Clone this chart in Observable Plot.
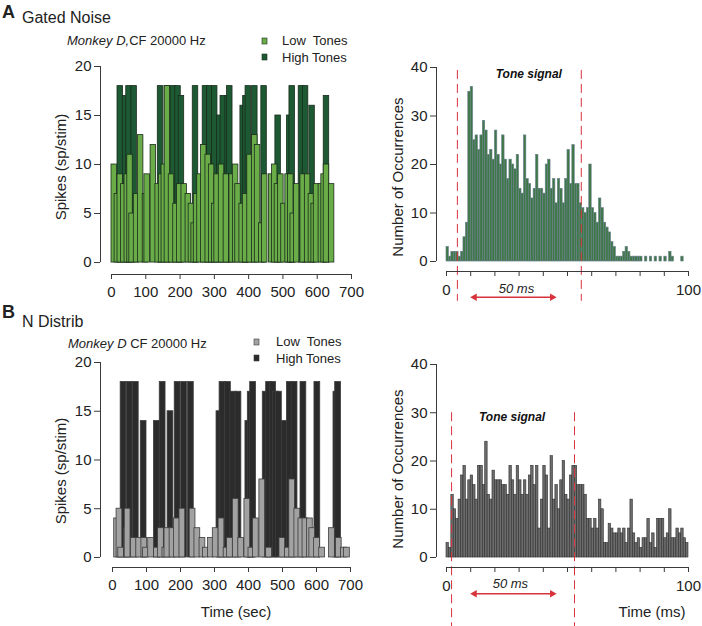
<!DOCTYPE html>
<html><head><meta charset="utf-8">
<script src="https://cdn.jsdelivr.net/npm/d3@7"></script>
<script src="https://cdn.jsdelivr.net/npm/@observablehq/plot@0.6"></script>
<style>
body{margin:0;background:#fff;}
#fig{position:relative;width:702px;height:626px;overflow:hidden;background:#fff}
#fig svg{position:absolute;overflow:visible}
</style></head><body><div id="fig"></div>
<script>
// ---------- data ----------
const spikesTicks = [0, 5, 10, 15, 20];
const timeTicks = [0, 100, 200, 300, 400, 500, 600, 700];
const occTicks = [0, 10, 20, 30, 40];
const msTicks = [0, 10, 20, 30, 40, 50, 60, 70, 80, 90, 100];

// Panel A (Gated Noise) trial bars: start time (sec) and spikes/stim
const highA_t = [17.5,33,43,58,135,155,172,186,196,237,266,279,293,308,318,332,337,376,384,391,410,437,478,512,519,546,558,577,619];
const highA_v = [18,17,18,18,18,18,18,18,17,18,18,18,18,15,17,17,18,16,17,18,18,18,15,15,18,18,18,16,17];
const lowA_t = [0,9,17.5,28,38,46,52,65,77,91,96,114,128,138,146,155,167,180,191,204,216,225,233,240,250,261,274,284,293,300,313,327,344,354,361,373,383,396,410,418,430,439,459,468,476,486,495,507,515,522,532,551,564,575,583,590,604,612,619,634];
const lowA_v = [10,7,9,8,9,11,5,7,13,7,9,12,8,9,10,18,9,6,8,8,7,6,4,7,9,12,11,10,6,9,10,9,9,10,8,6,7,11,13,12,4,9,9,10,8,9,6,9,9,5,8,9,9,7,6,8,8,9,10,8];

// Panel B (N Distrib)
const highB_t = [24,42,60,83,122,139,162,183,202,222,306,315,331,347,362,391,398,405,442,452,464,472,481,498,513,527,553,594,650,655];
const highB_v = [18,18,18,14,14,18,15,18,18,18,15,18,18,17,17,14,17,18,17,18,18,17,17,14,18,18,18,18,17,18];
const lowB_t = [5,12,17,34,36,54,70,85,90,105,122,134,147,153,168,181,197,227,241,256,266,281,295,312,327,337,354,370,388,400,413,432,452,491,507,520,535,547,559,572,579,593,608,637,657,672,681];
const lowB_v = [4,5,1,3,5,2,2,2,1,2,1,3,1,3,3,4,5,5,3,2,1,2,3,4,1,2,6,2,6,1,4,8,1,2,1,8,5,4,4,4,3,2,1,3,2,1,1];

// Histograms: occurrences per 1-ms bin, 0..99 ms
const histA = [3,1,2,2,2,1,2,5,8,35,36,25,26,23,26,29,27,22,23,21,27,22,20,26,21,17,21,20,19,22,15,14,26,17,16,13,15,22,15,15,14,20,21,15,17,12,17,15,12,17,23,16,24,16,16,12,11,10,11,20,11,10,8,13,11,8,7,6,4,3,1,1,1,2,3,2,1,1,1,1,1,0,1,0,1,0,1,0,1,0,1,0,2,1,0,0,0,1,0,0];
const histB = [3,2,13,10,8,12,17,19,12,16,17,15,12,19,19,15,24,13,12,18,16,16,16,15,15,13,19,16,13,19,16,13,16,13,17,19,15,19,6,12,19,17,6,21,12,15,10,16,20,13,12,17,19,19,15,15,15,13,8,8,6,8,6,12,10,3,3,7,6,5,5,6,5,6,3,6,12,5,3,4,2,4,4,8,3,5,2,8,8,8,4,5,10,4,4,6,5,6,4,3];

const toneA = [4.5, 55.7];   // ms, tone onset/offset markers
const toneB = [2.1, 52.9];
const arrowA = [10.3, 45];   // "50 ms" arrow extent
const arrowB = [10.3, 45];

// ---------- styles ----------
const FONT = "'Liberation Sans', Arial, Helvetica, sans-serif";
const RED = "#d8323c";
const AX = "#3a3a3a";
const GREEN_L = "#6aac48", GREEN_D = "#1d5a33", GREEN_S = "#1a2c1c";
const GRAY_L = "#a2a2a2", GRAY_D = "#2b2b2b", GRAY_S = "#3c3c3c";
const fig = document.getElementById("fig");
function put(svg, left, top){ svg.style.left = left + "px"; svg.style.top = top + "px"; fig.appendChild(svg); }
const rows = (t, v) => t.map((x, i) => ({t: x, v: v[i]}));
const hrows = h => h.map((v, i) => ({ms: i, v})).filter(d => d.v > 0);
const baseStyle = {fontFamily: FONT, fontSize: "15px", color: AX, background: "transparent", overflow: "visible"};

function trialPanel({high, low, bw, cH, cL, cS, width, height, mL, mR, mT, mB, xMin, yMin}) {
  return Plot.plot({
    width, height, marginLeft: mL, marginRight: mR, marginTop: mT, marginBottom: mB,
    style: baseStyle,
    x: {domain: [xMin, 700], label: null},
    y: {domain: [yMin, 20], label: null},
    marks: [
      Plot.rect(high, {x1: "t", x2: d => d.t + bw, y1: 0, y2: "v", fill: cH, stroke: cS, strokeWidth: 0.8}),
      Plot.rect(low, {x1: "t", x2: d => d.t + bw, y1: 0, y2: "v", fill: cL, stroke: cS, strokeWidth: 0.8}),
      Plot.ruleX([xMin], {y1: 0, y2: 20, stroke: AX, strokeWidth: 1}),
      Plot.ruleY([yMin], {x1: 0, x2: 700, stroke: AX, strokeWidth: 1}),
      Plot.axisY({ticks: spikesTicks, anchor: "left", tickSize: 6, tickPadding: 3, label: null, fontSize: 15, fill: "#222"}),
      Plot.axisX({ticks: timeTicks, anchor: "bottom", tickSize: 5, tickPadding: 7, label: null, fontSize: 15, fill: "#222"})
    ]
  });
}

function histPanel({hist, fill, stroke, tone, toneTop, toneBottom, arrow, arrowY, msLabelX, msLabelY, toneLabelX, toneLabelY, width, height, mL, mR, mT, mB, xMin, yMin}) {
  return Plot.plot({
    width, height, marginLeft: mL, marginRight: mR, marginTop: mT, marginBottom: mB,
    style: baseStyle,
    x: {domain: [xMin, 100], label: null},
    y: {domain: [yMin, 40], label: null},
    marks: [
      Plot.rect(hrows(hist), {x1: "ms", x2: d => d.ms + 1, y1: 0, y2: "v", fill, stroke, strokeWidth: 0.6}),
      Plot.ruleX(tone, {y1: toneTop, y2: toneBottom, stroke: RED, strokeWidth: 1, strokeDasharray: "9,5"}),
      Plot.ruleX([xMin], {y1: 0, y2: 40, stroke: AX, strokeWidth: 1}),
      Plot.ruleY([yMin], {x1: 0, x2: 100, stroke: AX, strokeWidth: 1}),
      Plot.axisY({ticks: occTicks, anchor: "left", tickSize: 6, tickPadding: 3, label: null, fontSize: 15, fill: "#222"}),
      Plot.axisX({ticks: msTicks, tickFormat: d => (d === 0 || d === 100) ? String(d) : "", anchor: "bottom", tickSize: 5, tickPadding: 8, label: null, fontSize: 15, fill: "#222"}),
      Plot.link([arrow], {x1: d => d[0] + 1, x2: d => d[1] - 1, y1: arrowY, y2: arrowY, stroke: RED, strokeWidth: 1.6}),
      Plot.dot([arrow[0] + 1.3], {x: d => d, y: arrowY, symbol: "triangle2", rotate: -90, r: 3.6, fill: RED}),
      Plot.dot([arrow[1] - 1.3], {x: d => d, y: arrowY, symbol: "triangle2", rotate: 90, r: 3.6, fill: RED}),
      Plot.text(["Tone signal"], {x: toneLabelX, y: toneLabelY, fontSize: 12, fontWeight: "bold", fontStyle: "italic", fill: "#111"}),
      Plot.text(["50 ms"], {x: msLabelX, y: msLabelY, fontSize: 13, fontStyle: "italic", fill: "#222"})
    ]
  });
}

// ---------- panels ----------
put(trialPanel({high: rows(highA_t, highA_v), low: rows(lowA_t, lowA_v), bw: 16, cH: GREEN_D, cL: GREEN_L, cS: GREEN_S,
  width: 360, height: 250, mL: 100, mR: 9, mT: 11, mB: 31, xMin: -32.1, yMin: -1.22}), 0, 55);

put(histPanel({hist: histA, fill: "#3e7846", stroke: "#6a7e8e", tone: toneA, toneTop: 39.4, toneBottom: -8.2,
  arrow: arrowA, arrowY: -7.36, msLabelX: 28.9, msLabelY: -5.6, toneLabelX: 34, toneLabelY: 38.6,
  width: 342, height: 260, mL: 76, mR: 14, mT: 12, mB: 44, xMin: -4.13, yMin: -2.06}), 360, 55);

put(trialPanel({high: rows(highB_t, highB_v), low: rows(lowB_t, lowB_v), bw: 17, cH: GRAY_D, cL: GRAY_L, cS: GRAY_S,
  width: 360, height: 270, mL: 100, mR: 10, mT: 37, mB: 28, xMin: -35.3, yMin: -1.03}), 0, 325);

put(histPanel({hist: histB, fill: "#6c6c6c", stroke: "#2f2f2f", tone: toneB, toneTop: 30, toneBottom: -14.5,
  arrow: arrowB, arrowY: -7.5, msLabelX: 26.4, msLabelY: -5.5, toneLabelX: 27.1, toneLabelY: 29,
  width: 342, height: 301, mL: 76, mR: 14, mT: 39, mB: 59, xMin: -4.13, yMin: -2.07}), 360, 325);

// ---------- overlay text ----------
const ov = d3.select(fig).append("svg").attr("width", 702).attr("height", 626)
  .style("left", "0px").style("top", "0px").style("pointer-events", "none")
  .attr("font-family", FONT).attr("fill", "#222");

function txt(x, y, s, size, opts = {}) {
  const t = ov.append("text").attr("x", x).attr("y", y).attr("font-size", size).attr("xml:space", "preserve").style("white-space", "pre").text(s);
  if (opts.weight) t.attr("font-weight", opts.weight);
  if (opts.style) t.attr("font-style", opts.style);
  if (opts.anchor) t.attr("text-anchor", opts.anchor);
  if (opts.rotate) t.attr("transform", `rotate(${opts.rotate},${x},${y})`);
  return t;
}
function monkey(x, y, a, b) {
  const t = ov.append("text").attr("x", x).attr("y", y).attr("font-size", 13).style("white-space", "pre");
  t.append("tspan").attr("font-style", "italic").text(a);
  t.append("tspan").text(b);
}
function legend(x, y, tx, colL, colH, colS) {
  ov.append("rect").attr("x", x).attr("y", y).attr("width", 5).attr("height", 6).attr("fill", colL).attr("stroke", colS).attr("stroke-width", 0.6);
  ov.append("rect").attr("x", x).attr("y", y + 16).attr("width", 5).attr("height", 6).attr("fill", colH).attr("stroke", colS).attr("stroke-width", 0.6);
  txt(tx, y + 7, "Low  Tones", 13);
  txt(tx, y + 23.5, "High Tones", 13);
}

txt(2, 18, "A", 18, {weight: "bold"});
txt(22, 23, "Gated Noise", 16);
monkey(67, 45, "Monkey D,", "CF 20000 Hz");
legend(262, 38, 282, GREEN_L, GREEN_D, GREEN_S);
txt(66, 167, "Spikes (sp/stim)", 15, {anchor: "middle", rotate: -90});
txt(403, 177, "Number of Occurrences", 15, {anchor: "middle", rotate: -90});

txt(2, 318, "B", 18, {weight: "bold"});
txt(22, 327, "N Distrib", 16);
monkey(68, 348, "Monkey D", " CF 20000 Hz");
legend(254, 339, 276, GRAY_L, GRAY_D, GRAY_S);
txt(66, 471, "Spikes (sp/stim)", 15, {anchor: "middle", rotate: -90});
txt(403, 469, "Number of Occurrences", 15, {anchor: "middle", rotate: -90});
txt(236, 617, "Time (sec)", 15, {anchor: "middle"});
txt(652, 617, "Time (ms)", 15, {anchor: "middle"});
</script></body></html>
